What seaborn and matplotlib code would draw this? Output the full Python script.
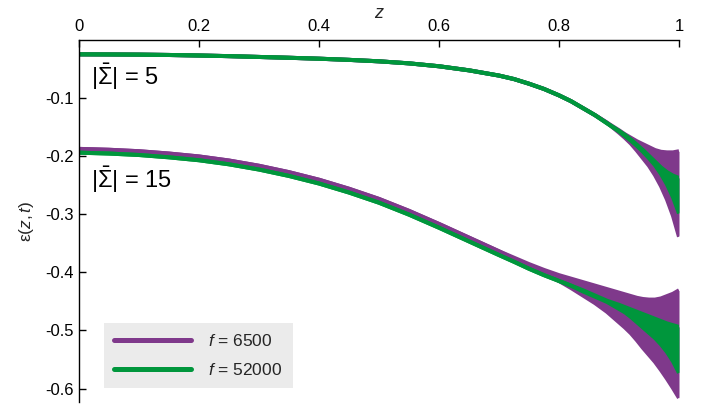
import numpy as np
import pandas as pd
import matplotlib
matplotlib.use("Agg")
import matplotlib.pyplot as plt
from matplotlib.lines import Line2D
import seaborn as sns

# ---- data ----
z = [0, 0.05, 0.1, 0.15, 0.2, 0.25, 0.3, 0.35, 0.4, 0.45, 0.5, 0.55, 0.6, 0.65, 0.7, 0.725, 0.75, 0.775,
     0.8, 0.82, 0.84, 0.86, 0.88, 0.9, 0.91, 0.92, 0.93, 0.94, 0.95, 0.96, 0.97, 0.98, 0.99, 1.0]

# |Sigma| = 5
s5_f6500_upper = [-0.0255, -0.0257, -0.026, -0.0266, -0.0275, -0.0286, -0.030, -0.0314, -0.033, -0.035, -0.0375,
                  -0.041, -0.046, -0.053, -0.062, -0.068, -0.076, -0.085, -0.096, -0.106, -0.118, -0.130, -0.143,
                  -0.156, -0.163, -0.169, -0.175, -0.180, -0.185, -0.190, -0.193, -0.194, -0.194, -0.192]
s5_f6500_lower = [-0.0255, -0.0257, -0.026, -0.0266, -0.0275, -0.0286, -0.030, -0.0314, -0.033, -0.035, -0.0375,
                  -0.041, -0.046, -0.053, -0.062, -0.068, -0.076, -0.085, -0.096, -0.106, -0.118, -0.130, -0.143,
                  -0.160, -0.169, -0.179, -0.191, -0.204, -0.217, -0.233, -0.252, -0.275, -0.303, -0.339]
s5_f52000_upper = [-0.0255, -0.0257, -0.026, -0.0266, -0.0275, -0.0286, -0.030, -0.0314, -0.033, -0.035, -0.0375,
                   -0.041, -0.046, -0.053, -0.062, -0.068, -0.076, -0.085, -0.096, -0.106, -0.118, -0.130, -0.144,
                   -0.157, -0.164, -0.172, -0.181, -0.190, -0.200, -0.210, -0.220, -0.228, -0.234, -0.238]
s5_f52000_lower = [-0.0255, -0.0257, -0.026, -0.0266, -0.0275, -0.0286, -0.030, -0.0314, -0.033, -0.035, -0.0375,
                   -0.041, -0.046, -0.053, -0.062, -0.068, -0.076, -0.085, -0.096, -0.106, -0.118, -0.130, -0.144,
                   -0.158, -0.166, -0.174, -0.183, -0.193, -0.204, -0.216, -0.231, -0.249, -0.271, -0.299]

# |Sigma| = 15
s15_f6500_upper = [-0.188, -0.1895, -0.192, -0.196, -0.201, -0.208, -0.217, -0.228, -0.241, -0.2565, -0.274,
                   -0.2945, -0.317, -0.3405, -0.364, -0.375, -0.386, -0.396, -0.405, -0.411, -0.417, -0.423, -0.429,
                   -0.435, -0.438, -0.441, -0.444, -0.446, -0.447, -0.447, -0.445, -0.441, -0.437, -0.431]
s15_f6500_lower = [-0.188, -0.1895, -0.192, -0.196, -0.201, -0.208, -0.217, -0.228, -0.241, -0.2565, -0.274,
                   -0.2945, -0.317, -0.3405, -0.364, -0.377, -0.389, -0.401, -0.415, -0.427, -0.440, -0.453, -0.468,
                   -0.486, -0.495, -0.505, -0.517, -0.530, -0.542, -0.554, -0.568, -0.583, -0.599, -0.616]
s15_f52000_upper = [-0.1945, -0.196, -0.1985, -0.2025, -0.2075, -0.2145, -0.2235, -0.2345, -0.2475, -0.263, -0.2805,
                    -0.301, -0.3235, -0.347, -0.3705, -0.382, -0.394, -0.405, -0.415, -0.423, -0.431, -0.440, -0.449,
                    -0.456, -0.460, -0.464, -0.468, -0.472, -0.476, -0.480, -0.484, -0.488, -0.491, -0.494]
s15_f52000_lower = [-0.1945, -0.196, -0.1985, -0.2025, -0.2075, -0.2145, -0.2235, -0.2345, -0.2475, -0.263, -0.2805,
                    -0.301, -0.3235, -0.347, -0.3705, -0.382, -0.394, -0.405, -0.415, -0.423, -0.433, -0.442, -0.451,
                    -0.463, -0.469, -0.477, -0.486, -0.495, -0.504, -0.513, -0.524, -0.537, -0.553, -0.573]

series_labels = ["$f$ = 6500", "$f$ = 52000"]
sigma_labels = [r"$|\bar{\Sigma}|$ = 5", r"$|\bar{\Sigma}|$ = 15"]
xtick_values = [0, 0.2, 0.4, 0.6, 0.8, 1.0]
xtick_labels = ["0", "0.2", "0.4", "0.6", "0.8", "1"]
ytick_values = [-0.6, -0.5, -0.4, -0.3, -0.2, -0.1]
ytick_labels = ["-0.6", "-0.5", "-0.4", "-0.3", "-0.2", "-0.1"]

PURPLE = "#7f398b"
GREEN = "#00963c"

sns.set_theme(style="ticks")
plt.rcParams["font.family"] = ["Liberation Sans", "DejaVu Sans"]
plt.rcParams["mathtext.fontset"] = "custom"
plt.rcParams["mathtext.rm"] = "Liberation Sans"
plt.rcParams["mathtext.it"] = "Liberation Sans:italic"
plt.rcParams["mathtext.bf"] = "Liberation Sans:bold"

fig = plt.figure(figsize=(7.02, 4.05), dpi=100)
ax = fig.add_axes([79 / 702, 1 - 402 / 405, 600 / 702, (402 - 39.5) / 405])

bands = [
    (s5_f6500_upper, s5_f6500_lower, PURPLE),
    (s15_f6500_upper, s15_f6500_lower, PURPLE),
    (s5_f52000_upper, s5_f52000_lower, GREEN),
    (s15_f52000_upper, s15_f52000_lower, GREEN),
]
for up, lo, col in bands:
    ax.fill_between(z, lo, up, color=col, linewidth=0)
    df = pd.DataFrame({"z": z + z, "v": up + lo, "edge": ["u"] * len(z) + ["l"] * len(z)})
    sns.lineplot(data=df, x="z", y="v", units="edge", estimator=None, color=col,
                 linewidth=2.9, ax=ax, legend=False, solid_capstyle="butt")

ax.set_xlim(0, 1)
ax.set_ylim(-0.623, 0)
ax.xaxis.tick_top()
ax.xaxis.set_label_position("top")
ax.set_xticks(xtick_values)
ax.set_xticklabels(xtick_labels)
ax.set_yticks(ytick_values)
ax.set_yticklabels(ytick_labels)
ax.tick_params(direction="in", length=5, width=1, labelsize=12, color="black", labelcolor="black", pad=4)
for side in ["bottom", "right"]:
    ax.spines[side].set_visible(False)
for side in ["top", "left"]:
    ax.spines[side].set_color("black")
    ax.spines[side].set_linewidth(1)
ax.set_xlabel("z", fontsize=13, fontstyle="italic", labelpad=1)
ax.set_ylabel("ε($z,t$)", fontsize=12.5, labelpad=6)
ax.grid(False)

ax.text(0.02, -0.078, sigma_labels[0], fontsize=17, ha="left", va="baseline", color="black")
ax.text(0.02, -0.255, sigma_labels[1], fontsize=17, ha="left", va="baseline", color="black")

handles = [Line2D([0], [0], color=PURPLE, lw=3.6), Line2D([0], [0], color=GREEN, lw=3.6)]
leg = ax.legend(handles, series_labels, loc="lower left", bbox_to_anchor=(104 / 702, 1 - 388 / 405),
                bbox_transform=fig.transFigure, fontsize=12.5, frameon=True, fancybox=False,
                facecolor="#ebebeb", edgecolor="none", framealpha=1, handlelength=4.4,
                handletextpad=1.0, labelspacing=0.7, borderpad=0.6, borderaxespad=0)

fig.savefig("out.png", dpi=100)
